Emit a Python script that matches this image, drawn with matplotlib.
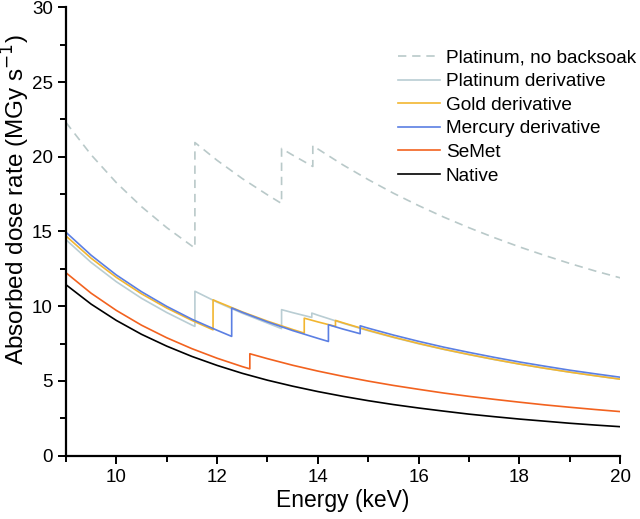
import matplotlib
matplotlib.use('Agg')
import matplotlib.pyplot as plt
from matplotlib.ticker import MultipleLocator

plt.rcParams['font.family'] = ['Liberation Sans', 'DejaVu Sans']

# values; repeated energies mark the absorption edges
pt_nb_e = [9, 9.5, 10, 10.5, 11, 11.5, 11.56, 11.56, 12, 12.5, 13, 13.28, 13.28, 13.5, 13.9, 13.9,
           14, 14.5, 15, 15.5, 16, 16.5, 17, 17.5, 18, 18.5, 19, 19.5, 20]
pt_nb_dose = [22.3, 20.13, 18.27, 16.66, 15.26, 14.03, 13.9, 20.95, 19.76, 18.54, 17.45, 16.87, 20.55, 20.11,
              19.35, 20.75, 20.52, 19.45, 18.47, 17.56, 16.73, 15.96, 15.25, 14.59, 13.97, 13.40, 12.86,
              12.36, 11.9]

pt_e = [9, 9.5, 10, 10.5, 11, 11.5, 11.56, 11.56, 12, 12.5, 13, 13.28, 13.28, 13.5, 13.88, 13.88,
        14, 14.5, 15, 15.5, 16, 16.5, 17, 17.5, 18, 18.5, 19, 19.5, 20]
pt_dose = [14.45, 12.93, 11.64, 10.53, 9.58, 8.74, 8.65, 11.0, 10.27, 9.53, 8.87, 8.50, 9.77, 9.57,
           9.25, 9.54, 9.40, 8.86, 8.36, 7.91, 7.49, 7.11, 6.76, 6.43, 6.13, 5.85, 5.59, 5.35, 5.12]

au_e = [9, 9.5, 10, 10.5, 11, 11.5, 11.92, 11.92, 12, 12.5, 13, 13.5, 13.73, 13.73, 14, 14.35, 14.35,
        14.5, 15, 15.5, 16, 16.5, 17, 17.5, 18, 18.5, 19, 19.5, 20]
au_dose = [14.70, 13.21, 11.93, 10.83, 9.88, 9.05, 8.42, 10.43, 10.31, 9.62, 9.00, 8.44, 8.20, 9.2,
           8.95, 8.65, 9.05, 8.89, 8.39, 7.93, 7.51, 7.12, 6.77, 6.44, 6.13, 5.85, 5.59, 5.35, 5.12]

hg_e = [9, 9.5, 10, 10.5, 11, 11.5, 12, 12.29, 12.29, 12.5, 13, 13.5, 14, 14.21, 14.21, 14.5, 14.84,
        14.84, 15, 15.5, 16, 16.5, 17, 17.5, 18, 18.5, 19, 19.5, 20]
hg_dose = [14.95, 13.41, 12.09, 10.97, 9.99, 9.13, 8.39, 7.98, 9.88, 9.59, 8.95, 8.37, 7.85, 7.64,
           8.76, 8.47, 8.16, 8.69, 8.53, 8.07, 7.65, 7.26, 6.91, 6.58, 6.27, 5.99, 5.72, 5.48, 5.25]

semet_e = [9, 9.5, 10, 10.5, 11, 11.5, 12, 12.5, 12.65, 12.65, 13, 13.5, 14, 14.5, 15, 15.5, 16,
           16.5, 17, 17.5, 18, 18.5, 19, 19.5, 20]
semet_dose = [12.24, 10.87, 9.72, 8.73, 7.89, 7.16, 6.52, 5.96, 5.81, 6.82, 6.49, 6.05, 5.66, 5.31,
              4.99, 4.70, 4.44, 4.19, 3.97, 3.77, 3.58, 3.40, 3.24, 3.09, 2.95]

native_e = [9, 9.5, 10, 10.5, 11, 11.5, 12, 12.5, 13, 13.5, 14, 14.5, 15, 15.5, 16, 16.5, 17, 17.5,
            18, 18.5, 19, 19.5, 20]
native_dose = [11.44, 10.14, 9.05, 8.12, 7.33, 6.64, 6.04, 5.51, 5.05, 4.65, 4.29, 3.97, 3.68, 3.42,
               3.19, 2.98, 2.78, 2.61, 2.45, 2.31, 2.17, 2.05, 1.94]

fig = plt.figure(figsize=(6.4, 5.19), dpi=100)
ax = fig.add_axes([0.103, 0.122, 0.866, 0.864])

lw = 1.2
ax.plot(pt_nb_e, pt_nb_dose, color='#b9c9c9', lw=lw, ls=(0, (5, 3.5)), label='Platinum, no backsoak')
ax.plot(pt_e, pt_dose, color='#b9cdd3', lw=lw, label='Platinum derivative')
ax.plot(au_e, au_dose, color='#f2b630', lw=lw, label='Gold derivative')
ax.plot(hg_e, hg_dose, color='#5b7fe3', lw=lw, label='Mercury derivative')
ax.plot(semet_e, semet_dose, color='#f2621f', lw=lw, label='SeMet')
ax.plot(native_e, native_dose, color='black', lw=lw, label='Native')

ax.set_xlim(9, 20)
ax.set_ylim(0, 30)
ax.xaxis.set_major_locator(MultipleLocator(2))
ax.xaxis.set_minor_locator(MultipleLocator(1))
ax.yaxis.set_major_locator(MultipleLocator(5))
ax.yaxis.set_minor_locator(MultipleLocator(2.5))
ax.set_xticks([10, 12, 14, 16, 18, 20])

for side in ['top', 'right']:
    ax.spines[side].set_visible(False)
for side in ['left', 'bottom']:
    ax.spines[side].set_linewidth(1.6)
ax.tick_params(which='major', direction='out', length=6, width=1.4, labelsize=13.5)
ax.tick_params(which='minor', direction='out', length=4, width=1.4)

ax.set_xlabel('Energy (keV)', fontsize=16.5, labelpad=2)
ax.set_ylabel('Absorbed dose rate (MGy s$^{-1}$)', fontsize=17.5)
ax.yaxis.set_label_coords(-0.0605, 0.571)

fig.legend(*ax.get_legend_handles_labels(), loc='upper left', bbox_to_anchor=(0.622, 0.905),
           frameon=False, fontsize=13.7, handlelength=2.2, handletextpad=0.3,
           labelspacing=0.33, borderpad=0, borderaxespad=0)

fig.savefig('out.png', dpi=100)
